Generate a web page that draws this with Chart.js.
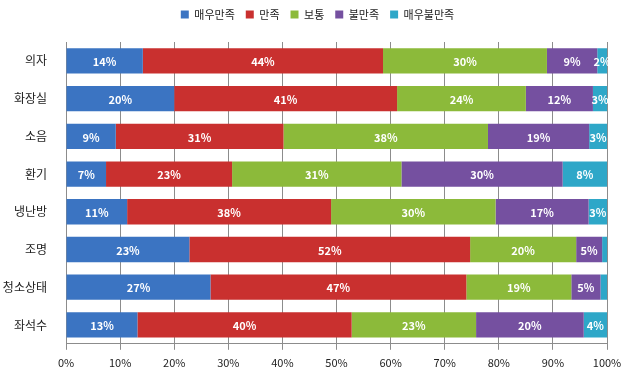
<!DOCTYPE html>
<html>
<head>
<meta charset="utf-8">
<script src="https://cdn.jsdelivr.net/npm/chart.js@4"></script>
<style>
  html, body { margin: 0; padding: 0; background: #fff; }
  #wrap { width: 634px; height: 376px; }
</style>
</head>
<body>
<div id="wrap"><canvas id="myChart" width="634" height="376"></canvas></div>
<script>
// categories (top to bottom)
const items = ['의자', '화장실', '소음', '환기', '냉난방', '조명', '청소상태', '좌석수'];

// share of answers, %
const veryGood = [14.2, 20.0, 9.2, 7.4, 11.3, 22.8, 26.7, 13.2];
const good = [44.4, 41.2, 31.0, 23.3, 37.7, 51.9, 47.3, 39.6];
const normal = [30.3, 23.8, 37.8, 31.3, 30.4, 19.6, 19.4, 23.0];
const bad = [9.3, 12.4, 18.7, 29.8, 17.2, 4.8, 5.4, 19.9];
const veryBad = [1.8, 2.6, 3.3, 8.2, 3.4, 0.9, 1.2, 4.3];

const xTicks = [0, 10, 20, 30, 40, 50, 60, 70, 80, 90, 100];

const fontName = "'Noto Sans CJK KR', 'Noto Sans', sans-serif";

// white % labels inside each bar piece
const barLabels = {
  id: 'barLabels',
  afterDatasetsDraw(chart) {
    const ctx = chart.ctx;
    ctx.save();
    ctx.font = 'bold 11px ' + fontName;
    ctx.fillStyle = '#fff';
    ctx.textAlign = 'center';
    ctx.textBaseline = 'middle';
    chart.data.datasets.forEach((ds, i) => {
      const meta = chart.getDatasetMeta(i);
      meta.data.forEach((bar, j) => {
        const v = ds.data[j];
        if (v < 1.5) return;
        const p = bar.getProps(['x', 'y', 'base'], true);
        ctx.fillText(Math.round(v) + '%', (p.x + p.base) / 2, p.y + 1);
      });
    });
    ctx.restore();
  }
};

// more room under the legend, and centre it on the page
const legendGap = {
  id: 'legendGap',
  beforeInit(chart) {
    const fit = chart.legend.fit;
    chart.legend.fit = function () {
      fit.bind(chart.legend)();
      this.height += 12;
    };
  },
  afterUpdate(chart) {
    chart.legend.left += 14;
    chart.legend.right += 14;
  }
};

function makeChart(canvas) {
  const data = {
    labels: items,
    datasets: [
      { label: '매우만족', data: veryGood, backgroundColor: '#3b74c2' },
      { label: '만족', data: good, backgroundColor: '#c9302f' },
      { label: '보통', data: normal, backgroundColor: '#8cba3a' },
      { label: '불만족', data: bad, backgroundColor: '#7550a0' },
      { label: '매우불만족', data: veryBad, backgroundColor: '#2ea7c8' }
    ]
  };

  const config = {
    type: 'bar',
    data: data,
    plugins: [barLabels, legendGap],
    options: {
      indexAxis: 'y',
      responsive: false,
      animation: false,
      layout: { padding: { left: 0, right: 27, top: -2, bottom: 1 } },
      datasets: {
        bar: { categoryPercentage: 1, barPercentage: 0.67, borderWidth: 0 }
      },
      plugins: {
        legend: {
          position: 'top',
          labels: {
            boxWidth: 8,
            boxHeight: 8,
            padding: 11,
            color: '#222',
            font: { family: fontName, size: 11 }
          }
        },
        tooltip: { enabled: false }
      },
      scales: {
        x: {
          stacked: true,
          min: 0,
          max: 100,
          afterBuildTicks: (axis) => { axis.ticks = xTicks.map((v) => ({ value: v })); },
          ticks: {
            callback: (v) => v + '%',
            color: '#222',
            padding: 6,
            font: { family: fontName, size: 11 }
          },
          grid: { color: '#8c8c8c', tickLength: 6, tickColor: '#8c8c8c' },
          border: { color: '#8c8c8c' }
        },
        y: {
          stacked: true,
          afterFit: (axis) => { axis.width = 66; },
          ticks: {
            color: '#222',
            padding: 11,
            font: { family: fontName, size: 12 }
          },
          grid: { display: false },
          border: { color: '#8c8c8c' }
        }
      }
    }
  };

  return new Chart(canvas, config);
}

document.addEventListener('DOMContentLoaded', () => {
  makeChart(document.querySelector('#myChart'));
});
</script>
</body>
</html>
